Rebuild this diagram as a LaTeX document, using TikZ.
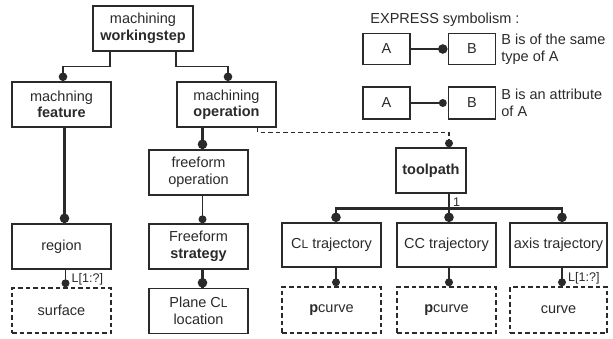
\documentclass[tikz,border=0pt]{standalone}
\usepackage{fontspec}
\setmainfont{Liberation Sans}
\usetikzlibrary{calc}
\definecolor{ink}{HTML}{2A2A2A}
\newcommand{\smcl}{C{\fontsize{12}{13}\selectfont L}}
\tikzset{
  box/.style={draw=ink, line width=1.4pt, rectangle, minimum width=99pt, minimum height=45pt,
    align=center, inner sep=1pt, text=ink, font=\fontsize{14.5}{16.5}\selectfont},
  dbox/.style={box, dashed, dash pattern=on 4.5pt off 3pt},
  lbox/.style={box, minimum width=47pt, minimum height=31pt},
  thick link/.style={draw=ink, line width=2.4pt},
  thin link/.style={draw=ink, line width=1.4pt},
  dash link/.style={draw=ink, line width=1.2pt, dash pattern=on 4.5pt off 3pt},
  bigdot/.style={fill=ink},
  lbl/.style={text=ink, font=\fontsize{12.5}{14}\selectfont, inner sep=0pt},
  ltext/.style={text=ink, font=\fontsize{14.5}{16.5}\selectfont, align=left, inner sep=0pt},
}
\begin{document}
\begin{tikzpicture}[x=1pt,y=-1pt]
\useasboundingbox (0,0) rectangle (613,338);

% nodes
\node[box, minimum width=100pt] (ws) at (143,28.5) {machining\\\textbf{workingstep}};
\node[box] (feat) at (61.5,104.5) {machning\\\textbf{feature}};
\node[box] (op) at (226.5,104.5) {machining\\\textbf{operation}};
\node[box] (ffop) at (198.5,172.5) {freeform\\operation};
\node[box] (region) at (61.5,246.5) {region};
\node[dbox] (surf) at (61.5,310.5) {surface};
\node[box] (strat) at (198.5,246.5) {Freeform\\\textbf{strategy}};
\node[box] (plane) at (198.5,311) {Plane \smcl\\location};
\node[box, minimum width=70pt] (tp) at (431,170.5) {\textbf{toolpath}};
\node[box, minimum height=44pt] (clt) at (331.5,245) {\smcl\ trajectory};
\node[box, minimum height=44pt] (cct) at (446.5,245) {CC trajectory};
\node[box, minimum width=97pt, minimum height=44pt] (axt) at (558.5,245) {axis trajectory};
\node[dbox, minimum height=46pt] (pc1) at (331.5,310) {\textbf{p}curve};
\node[dbox, minimum height=46pt] (pc2) at (446.5,310) {\textbf{p}curve};
\node[dbox, minimum width=97pt, minimum height=46pt] (crv) at (558.5,310) {curve};

% legend
\node[ltext] (title) at (445,20) {EXPRESS symbolism :};
\node[lbox] (la1) at (386.5,49) {A};
\node[lbox] (lb1) at (472,49) {B};
\node[lbox, minimum height=32pt] (la2) at (386.5,103) {A};
\node[lbox, minimum height=32pt] (lb2) at (472,103) {B};
\node[ltext, anchor=west] (lt1) at ([xshift=5pt]lb1.east) {B is of the same\\type of A};
\node[ltext, anchor=west] (lt2) at ([xshift=5pt]lb2.east) {B is an attribute\\of A};
\draw[thick link] (la1.east) -- ([xshift=-5pt]lb1.west);
\fill[bigdot] ([xshift=-5pt]lb1.west) circle (4.8pt);
\draw[thin link] (la2.east) -- ([xshift=-5pt]lb2.west);
\fill[bigdot] ([xshift=-5pt]lb2.west) circle (4pt);

% workingstep links
\coordinate (wsL) at ([xshift=-33pt]ws.south);
\coordinate (wsR) at ([xshift=33pt]ws.south);
\coordinate (fT) at ([xshift=1.5pt]feat.north);
\coordinate (oT) at ([xshift=1.5pt]op.north);
\draw[thin link] (wsL) |- ($(fT)+(0,-15)$) -- (fT);
\draw[thin link] (wsR) |- ($(oT)+(0,-15)$) -- (oT);
\fill[bigdot] ([yshift=4.5pt]fT) circle (4.3pt);
\fill[bigdot] ([yshift=4.5pt]oT) circle (4.3pt);

% feature -> region
\coordinate (fB) at ([xshift=3pt]feat.south);
\coordinate (rT) at ([xshift=3pt]region.north);
\draw[thick link] (fB) -- (rT);
\fill[bigdot] ([yshift=5pt]rT) circle (4.8pt);

% region -> surface
\coordinate (rB) at ([xshift=4pt]region.south);
\coordinate (sT) at ([xshift=4pt]surf.north);
\draw[thin link] (rB) -- (sT);
\fill[bigdot] ([yshift=4pt]sT) circle (4pt);
\node[lbl, anchor=south west] (l1) at ([xshift=6pt,yshift=2pt]rB |- sT) {L[1:?]};

% operation -> freeform operation
\coordinate (oB) at ([xshift=4pt]ffop.north |- op.south);
\coordinate (ffT) at ([xshift=4pt]ffop.north);
\draw[thick link] (oB) -- (ffT);
\fill[bigdot] ([yshift=5pt]ffT) circle (4.8pt);

% freeform op -> strategy
\coordinate (ffB) at ([xshift=4pt]ffop.south);
\coordinate (stT) at ([xshift=4pt]strat.north);
\draw[thin link] (ffB) -- (stT);
\fill[bigdot] ([yshift=4pt]stT) circle (4pt);

% strategy -> plane
\coordinate (stB) at ([xshift=4pt]strat.south);
\coordinate (plT) at ([xshift=4pt]plane.north);
\draw[thick link] (stB) -- (plT);
\fill[bigdot] ([yshift=5pt]plT) circle (4.8pt);

% operation -> toolpath (dashed)
\coordinate (oD) at ([xshift=-19pt]op.south east);
\coordinate (tpT) at ([xshift=18pt]tp.north);
\draw[dash link] (oD) |- ($(tpT)+(0,-15)$) -- (tpT);
\fill[bigdot] ([yshift=4pt]tpT) circle (4pt);

% toolpath -> trajectories
\coordinate (tpB) at ([xshift=18pt]tp.south);
\coordinate (c1) at ([xshift=4.5pt]clt.north);
\coordinate (c2) at ([xshift=2.5pt]cct.north);
\coordinate (c3) at ([xshift=3.5pt]axt.north);
\draw[thick link] (tpB) -- ($(tpB |- c2)+(0,-14)$);
\draw[thick link] (c1) -- ($(c1)+(0,-14)$) -- ($(c3)+(0,-14)$) -- (c3);
\draw[thick link] ($(c2)+(0,-14)$) -- (c2);
\foreach \c in {c1,c2,c3} \fill[bigdot] ([yshift=5pt]\c) circle (4.8pt);
\node[lbl, anchor=south west] (one) at ([xshift=4pt,yshift=15.5pt]c2) {1};

% trajectories -> curves
\coordinate (t1) at ([xshift=4.5pt]clt.south);
\coordinate (t2) at ([xshift=2.5pt]cct.south);
\coordinate (t3) at ([xshift=3.5pt]axt.south);
\coordinate (p1) at ([xshift=4.5pt]pc1.north);
\coordinate (p2) at ([xshift=2.5pt]pc2.north);
\coordinate (p3) at ([xshift=3.5pt]crv.north);
\draw[thin link] (t1) -- (p1);
\draw[thin link] (t2) -- (p2);
\draw[thin link] (t3) -- (p3);
\foreach \c in {p1,p2,p3} \fill[bigdot] ([yshift=4pt]\c) circle (4pt);
\node[lbl, anchor=south west] (l2) at ([xshift=6pt,yshift=2pt]p3) {L[1:?]};
\end{tikzpicture}
\end{document}
